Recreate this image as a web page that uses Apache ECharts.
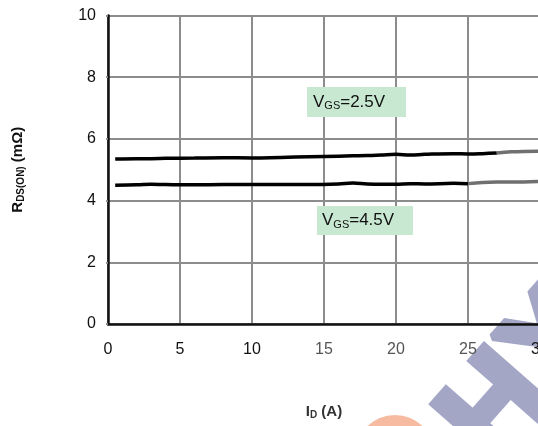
<!DOCTYPE html>
<html>
<head>
<meta charset="utf-8">
<script src="https://cdn.jsdelivr.net/npm/echarts@6/dist/echarts.min.js"></script>
<style>html,body{margin:0;padding:0;background:#fff;}#c{width:538px;height:426px;}</style>
</head>
<body>
<div id="c"></div>
<script>
// Data
var idA = [0.5, 2, 3, 4, 6, 8, 10, 12, 14, 16, 17, 18, 19, 20, 21, 22, 24, 25, 26, 27, 28, 30];
var rds25 = [5.35, 5.36, 5.36, 5.37, 5.38, 5.39, 5.38, 5.40, 5.42, 5.44, 5.45, 5.46, 5.48, 5.50, 5.48, 5.50, 5.52, 5.51, 5.52, 5.54, 5.58, 5.60];
var rds45 = [4.50, 4.51, 4.53, 4.52, 4.51, 4.52, 4.52, 4.52, 4.52, 4.54, 4.57, 4.54, 4.53, 4.53, 4.55, 4.54, 4.56, 4.55, 4.59, 4.60, 4.60, 4.62];
var xTicks = [0, 5, 10, 15, 20, 25, 30];
var yTicks = [0, 2, 4, 6, 8, 10];
var fade25 = 27;   // x where the 2.5V curve turns grey in the picture
var fade45 = 25;   // x where the 4.5V curve turns grey

function pairs(xs, ys, lo, hi) {
  var out = [];
  xs.forEach(function (x, i) { if (x >= lo && x <= hi) out.push([x, ys[i]]); });
  return out;
}

var chart = echarts.init(document.getElementById('c'));
var fam = 'Liberation Sans, Arial, sans-serif';
function curve(data, color, z) {
  return { type: 'line', data: data, smooth: 0.4, showSymbol: false, symbol: 'none',
    lineStyle: { width: 3.5, color: color }, itemStyle: { color: color }, z: z };
}
chart.setOption({
  animation: false,
  grid: { left: 108, top: 15.5, width: 432, height: 308.5, containLabel: false, outerBoundsMode: 'none' },
  xAxis: {
    type: 'value', min: 0, max: 30, interval: 5,
    name: '{b|I}{s|D}{b| (A)}', nameLocation: 'middle', nameGap: 79,
    nameTextStyle: { rich: {
      b: { fontFamily: fam, fontSize: 15, fontWeight: 'bold', color: '#333' },
      s: { fontFamily: fam, fontSize: 10, fontWeight: 'bold', color: '#333', verticalAlign: 'bottom', padding: [7, 0, 0, 0] } } },
    axisLine: { show: true, onZero: false, lineStyle: { color: '#111', width: 2.5 } },
    axisTick: { show: false },
    axisLabel: { fontFamily: fam, fontSize: 16, margin: 18, hideOverlap: false, showMaxLabel: true,
      color: function (v) { return (v >= 15 && v <= 25) ? '#555' : '#111'; } },
    splitLine: { show: true, lineStyle: { color: '#8c8c8c', width: 2 } }
  },
  yAxis: {
    type: 'value', min: 0, max: 10, interval: 2,
    name: '{b|R}{s|DS(ON)}{b| (mΩ)}', nameLocation: 'middle', nameGap: 82, nameRotate: 90,
    nameTextStyle: { rich: {
      b: { fontFamily: fam, fontSize: 15, fontWeight: 'bold', color: '#111' },
      s: { fontFamily: fam, fontSize: 10, fontWeight: 'bold', color: '#111', verticalAlign: 'bottom', padding: [7, 0, 0, 0] } } },
    axisLine: { show: true, lineStyle: { color: '#111', width: 2.5 } },
    axisTick: { show: true, length: 2, lineStyle: { color: '#8c8c8c', width: 2 } },
    axisLabel: { fontFamily: fam, fontSize: 16, color: '#111', margin: 12 },
    splitLine: { show: true, lineStyle: { color: '#8c8c8c', width: 2 } }
  },
  series: [
    curve(pairs(idA, rds25, 0, fade25), '#000', 5),
    curve(pairs(idA, rds25, fade25, 30), '#707070', 5),
    curve(pairs(idA, rds45, 0, fade45), '#000', 5),
    curve(pairs(idA, rds45, fade45, 30), '#707070', 5)
  ],
  graphic: [
    { type: 'circle', shape: { cx: 395, cy: 455, r: 40 }, style: { fill: '#f6bba0' }, z: 0, silent: true },
    { type: 'text', x: 528, y: 378, rotation: 0.85, z: 0, silent: true,
      style: { text: 'HX', align: 'center', verticalAlign: 'middle',
        font: 'bold 130px Liberation Sans, Arial, sans-serif', fill: '#a4a6c6',
        stroke: '#a4a6c6', lineWidth: 8 } },
    { type: 'rect', shape: { x: 307, y: 87, width: 99, height: 30 }, style: { fill: '#c9e8d2' }, z: 10 },
    { type: 'text', x: 313, y: 102, z: 11,
      style: { text: '{a|V}{s|GS}{a|=2.5V}', verticalAlign: 'middle',
        rich: { a: { fontFamily: fam, fontSize: 17, fill: '#111' },
                s: { fontFamily: fam, fontSize: 11, fill: '#111', padding: [8, 0, 0, 0] } } } },
    { type: 'rect', shape: { x: 317, y: 206, width: 96, height: 29 }, style: { fill: '#c9e8d2' }, z: 10 },
    { type: 'text', x: 322, y: 220.5, z: 11,
      style: { text: '{a|V}{s|GS}{a|=4.5V}', verticalAlign: 'middle',
        rich: { a: { fontFamily: fam, fontSize: 17, fill: '#111' },
                s: { fontFamily: fam, fontSize: 11, fill: '#111', padding: [8, 0, 0, 0] } } } }
  ]
});
</script>
</body>
</html>
